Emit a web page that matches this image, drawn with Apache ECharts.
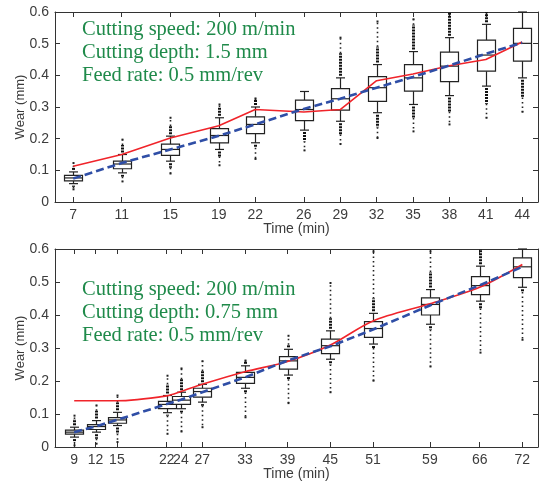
<!DOCTYPE html>
<html>
<head>
<meta charset="utf-8">
<script src="https://cdn.jsdelivr.net/npm/echarts@6/dist/echarts.min.js"></script>
<style>
  html, body { margin: 0; padding: 0; background: #fff; }
  #main { width: 539px; height: 482px; }
</style>
</head>
<body>
<div id="main"></div>
<script>
// upper panel: depth 1.5 mm
var timesA = [7, 11, 15, 19, 22, 26, 29, 32, 35, 38, 41, 44];
var whiskLoA = [0.058, 0.092, 0.129, 0.166, 0.187, 0.227, 0.255, 0.282, 0.308, 0.336, 0.366, 0.392];
var q1A = [0.067, 0.105, 0.147, 0.187, 0.216, 0.257, 0.290, 0.318, 0.350, 0.380, 0.413, 0.445];
var medA = [0.076, 0.120, 0.166, 0.210, 0.245, 0.292, 0.326, 0.361, 0.392, 0.429, 0.464, 0.501];
var q3A = [0.084, 0.129, 0.183, 0.232, 0.269, 0.322, 0.358, 0.396, 0.434, 0.473, 0.511, 0.548];
var whiskHiA = [0.095, 0.150, 0.208, 0.266, 0.300, 0.349, 0.392, 0.434, 0.475, 0.519, 0.561, 0.600];
var outHiA = [0.110, 0.180, 0.240, 0.300, 0.322, 0.349, 0.470, 0.490, 0.560, 0.600, 0.600, 0.600];
var outHiMaxA = [0.123, 0.197, 0.266, 0.308, 0.327, 0.349, 0.519, 0.570, 0.577, 0.600, 0.600, 0.600];
var outLoA = [0.048, 0.080, 0.108, 0.144, 0.171, 0.192, 0.213, 0.236, 0.265, 0.285, 0.310, 0.330];
var outLoMinA = [0.040, 0.065, 0.090, 0.116, 0.136, 0.163, 0.183, 0.202, 0.223, 0.245, 0.266, 0.285];
var redA = [0.113, 0.150, 0.202, 0.241, 0.292, 0.284, 0.292, 0.383, 0.404, 0.430, 0.450, 0.505];
var blueA = [0.074, 0.123, 0.166, 0.209, 0.245, 0.294, 0.326, 0.361, 0.395, 0.431, 0.468, 0.503];

// lower panel: depth 0.75 mm
var timesB = [9, 12, 15, 22, 24, 27, 33, 39, 45, 51, 59, 66, 72];
var whiskLoB = [0.030, 0.045, 0.065, 0.104, 0.116, 0.136, 0.178, 0.218, 0.266, 0.312, 0.372, 0.442, 0.484];
var q1B = [0.039, 0.053, 0.072, 0.116, 0.129, 0.151, 0.193, 0.236, 0.283, 0.332, 0.400, 0.462, 0.513];
var medB = [0.045, 0.062, 0.082, 0.129, 0.142, 0.168, 0.211, 0.261, 0.307, 0.359, 0.432, 0.489, 0.546];
var q3B = [0.051, 0.068, 0.089, 0.138, 0.153, 0.178, 0.226, 0.274, 0.327, 0.380, 0.452, 0.516, 0.573];
var whiskHiB = [0.060, 0.080, 0.105, 0.156, 0.166, 0.190, 0.246, 0.296, 0.352, 0.405, 0.477, 0.548, 0.600];
var outHiB = [0.085, 0.110, 0.135, 0.190, 0.205, 0.230, 0.258, 0.310, 0.390, 0.450, 0.530, 0.600, 0.600];
var outHiMaxB = [0.095, 0.126, 0.156, 0.216, 0.238, 0.260, 0.262, 0.337, 0.497, 0.593, 0.593, 0.600, 0.600];
var outLoB = [0.015, 0.025, 0.040, 0.095, 0.105, 0.125, 0.165, 0.205, 0.250, 0.300, 0.355, 0.420, 0.470];
var outLoMinB = [0.005, 0.010, 0.015, 0.040, 0.047, 0.060, 0.090, 0.133, 0.166, 0.201, 0.244, 0.286, 0.325];
var redB = [0.140, 0.140, 0.140, 0.155, 0.168, 0.190, 0.228, 0.259, 0.309, 0.382, 0.434, 0.484, 0.553];
var blueB = [0.045, 0.062, 0.082, 0.130, 0.143, 0.166, 0.211, 0.262, 0.305, 0.356, 0.429, 0.490, 0.546];

var yTicks = [0, 0.1, 0.2, 0.3, 0.4, 0.5, 0.6];

var AXIS_COLOR = '#333';
var LABEL_COLOR = '#3c3c3c';

function boxRows(t, lo, q1, md, q3, hi) {
  return t.map(function (v, i) { return [v, lo[i], q1[i], md[i], q3[i], hi[i]]; });
}
function outRows(t, hiEnd, hiMax, loEnd, loMin, wLo, wHi) {
  return t.map(function (v, i) { return [v, wHi[i], hiEnd[i], hiMax[i], wLo[i], loEnd[i], loMin[i]]; });
}
function pairs(t, ys) {
  return t.map(function (v, i) { return [v, ys[i]]; });
}

function renderBox(params, api) {
  var x = api.value(0);
  var lo = api.coord([x, api.value(1)]);
  var q1 = api.coord([x, api.value(2)]);
  var md = api.coord([x, api.value(3)]);
  var q3 = api.coord([x, api.value(4)]);
  var hi = api.coord([x, api.value(5)]);
  var cx = Math.round(lo[0]) + 0.5;
  var hw = 9, cw = 4.5;
  var st = { stroke: '#222', lineWidth: 1.2, fill: null };
  return {
    type: 'group',
    children: [
      { type: 'line', shape: { x1: cx, y1: q1[1], x2: cx, y2: lo[1] }, style: st },
      { type: 'line', shape: { x1: cx, y1: q3[1], x2: cx, y2: hi[1] }, style: st },
      { type: 'line', shape: { x1: cx - cw, y1: lo[1], x2: cx + cw, y2: lo[1] }, style: st },
      { type: 'line', shape: { x1: cx - cw, y1: hi[1], x2: cx + cw, y2: hi[1] }, style: st },
      { type: 'rect', shape: { x: cx - hw, y: q3[1], width: hw * 2, height: q1[1] - q3[1] },
        style: { stroke: '#222', lineWidth: 1.2, fill: '#fff' } },
      { type: 'line', shape: { x1: cx - hw, y1: md[1], x2: cx + hw, y2: md[1] }, style: st }
    ]
  };
}

function renderOut(params, api) {
  var x = api.value(0);
  var p = [];
  for (var k = 1; k <= 6; k++) p.push(api.coord([x, api.value(k)]));
  var cx = Math.round(p[0][0]) + 0.5;
  var dense = { stroke: '#111', lineWidth: 3, lineDash: [2, 1], fill: null };
  var sparse = { stroke: '#222', lineWidth: 1.6, lineDash: [1.5, 3], fill: null };
  var kids = [];
  // upper: whisker -> dense end -> max
  if (p[1][1] < p[0][1] - 1) kids.push({ type: 'line', shape: { x1: cx, y1: p[0][1] - 2, x2: cx, y2: p[1][1] }, style: dense });
  if (p[2][1] < p[1][1] - 1) {
    kids.push({ type: 'line', shape: { x1: cx, y1: p[1][1], x2: cx, y2: p[2][1] }, style: sparse });
    kids.push({ type: 'rect', shape: { x: cx - 1, y: p[2][1] - 1, width: 2, height: 2 }, style: { fill: '#222' } });
  }
  // lower: whisker -> dense end -> min
  if (p[4][1] > p[3][1] + 1) kids.push({ type: 'line', shape: { x1: cx, y1: p[3][1] + 2, x2: cx, y2: p[4][1] }, style: dense });
  if (p[5][1] > p[4][1] + 1) {
    kids.push({ type: 'line', shape: { x1: cx, y1: p[4][1], x2: cx, y2: p[5][1] }, style: sparse });
    kids.push({ type: 'rect', shape: { x: cx - 1, y: p[5][1] - 1, width: 2, height: 2 }, style: { fill: '#222' } });
  }
  return { type: 'group', children: kids };
}

function xAx(grid, min, max, ticks, pos) {
  var bottom = pos === 'bottom';
  return {
    type: 'value', gridIndex: grid, position: pos, min: min, max: max,
    name: bottom ? 'Time (min)' : '', nameLocation: 'middle', nameGap: 20, nameMoveOverlap: false,
    nameTextStyle: { color: LABEL_COLOR, fontSize: 14, fontFamily: 'Liberation Sans' },
    axisLine: { show: true, onZero: false, lineStyle: { color: AXIS_COLOR, width: 1 } },
    axisTick: { show: true, inside: true, length: 5, customValues: ticks, lineStyle: { color: AXIS_COLOR } },
    axisLabel: { show: bottom, customValues: ticks, margin: 6, color: LABEL_COLOR, fontSize: 14, fontFamily: 'Liberation Sans' },
    splitLine: { show: false }
  };
}
function yAx(grid, pos) {
  var left = pos === 'left';
  return {
    type: 'value', gridIndex: grid, position: pos, min: 0, max: 0.6, interval: 0.1,
    name: left ? 'Wear (mm)' : '', nameLocation: 'middle', nameGap: 28, nameMoveOverlap: false,
    nameTextStyle: { color: LABEL_COLOR, fontSize: 13, fontFamily: 'Liberation Sans' },
    axisLine: { show: true, onZero: false, lineStyle: { color: AXIS_COLOR, width: 1 } },
    axisTick: { show: true, inside: true, length: 5, lineStyle: { color: AXIS_COLOR } },
    axisLabel: { show: left, margin: 6, color: LABEL_COLOR, fontSize: 14, fontFamily: 'Liberation Sans',
      formatter: function (v) { return yTicks.indexOf(+v.toFixed(1)) >= 0 ? String(+v.toFixed(1)) : ''; } },
    splitLine: { show: false }
  };
}

function panelSeries(xi, t, lo, q1, md, q3, hi, oh, ohm, ol, olm, red, blue, smoothRed) {
  return [
    { type: 'custom', xAxisIndex: xi, yAxisIndex: xi, renderItem: renderOut, z: 2,
      encode: { x: 0, y: [1, 2, 3, 4, 5, 6] }, data: outRows(t, oh, ohm, ol, olm, lo, hi), silent: true },
    { type: 'custom', xAxisIndex: xi, yAxisIndex: xi, renderItem: renderBox, z: 3,
      encode: { x: 0, y: [1, 2, 3, 4, 5] }, data: boxRows(t, lo, q1, md, q3, hi), silent: true },
    { type: 'line', xAxisIndex: xi, yAxisIndex: xi, data: pairs(t, red), symbol: 'none', z: 5,
      smooth: smoothRed ? 0.3 : false,
      lineStyle: { color: '#f0242a', width: 1.6 } },
    { type: 'line', xAxisIndex: xi, yAxisIndex: xi, data: pairs(t, blue), symbol: 'none', z: 6,
      lineStyle: { color: '#2f4ea6', width: 2.6, type: [8, 4] } }
  ];
}

var textStyle = { fill: '#1f8a4a', fontSize: 20.5, fontFamily: 'Liberation Serif', lineHeight: 23 };

var option = {
  backgroundColor: '#fff',
  animation: false,
  grid: [
    { left: 55, top: 12, width: 483, height: 190 },
    { left: 55, top: 249, width: 483, height: 199 }
  ],
  // xAxis index: 0 bottom-A, 1 bottom-B, 2 top-A, 3 top-B
  xAxis: [
    xAx(0, 5.5, 45.3, timesA, 'bottom'),
    xAx(1, 6.3, 74.2, timesB, 'bottom'),
    xAx(0, 5.5, 45.3, timesA, 'top'),
    xAx(1, 6.3, 74.2, timesB, 'top')
  ],
  yAxis: [yAx(0, 'left'), yAx(1, 'left'), yAx(0, 'right'), yAx(1, 'right')],
  graphic: [
    { type: 'text', left: 82, top: 18, z: 10,
      style: Object.assign({ text: 'Cutting speed: 200 m/min\nCutting depth: 1.5 mm\nFeed rate: 0.5 mm/rev' }, textStyle) },
    { type: 'text', left: 82, top: 278, z: 10,
      style: Object.assign({ text: 'Cutting speed: 200 m/min\nCutting depth: 0.75 mm\nFeed rate: 0.5 mm/rev' }, textStyle) }
  ],
  series: [].concat(
    panelSeries(0, timesA, whiskLoA, q1A, medA, q3A, whiskHiA, outHiA, outHiMaxA, outLoA, outLoMinA, redA, blueA, false),
    panelSeries(1, timesB, whiskLoB, q1B, medB, q3B, whiskHiB, outHiB, outHiMaxB, outLoB, outLoMinB, redB, blueB, true)
  )
};

var myChart = echarts.init(document.getElementById('main'));
myChart.setOption(option);
</script>
</body>
</html>
